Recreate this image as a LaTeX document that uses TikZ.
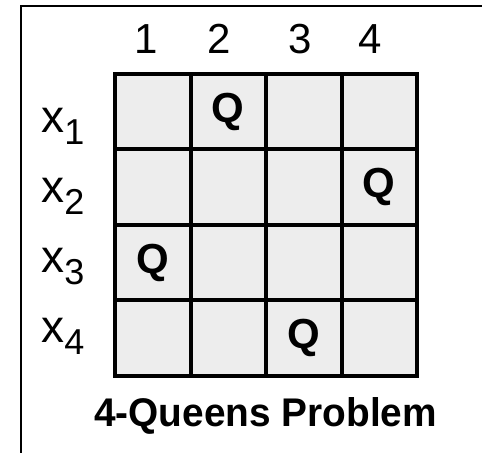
\documentclass[tikz,border=0pt]{standalone}
\usepackage{fontspec}
\setmainfont{Liberation Sans}
\usetikzlibrary{
    positioning                       % right=of, below=of
}
\definecolor{cell_gray}{RGB}{237,237,237}
\tikzset{
    cell/.style={
        rectangle, draw, fill=cell_gray, line width=2pt,
        minimum width=\cellS, minimum height=\cellS,
        inner sep=0pt, outer sep=0pt,
        font=\fontsize{21}{21}\selectfont\bfseries
    },
    collabel/.style={
        anchor=base, inner sep=0pt,
        font=\fontsize{21}{21}\selectfont
    },
    rowlabel/.style={
        anchor=base west, inner sep=0pt
    },
    title/.style={
        anchor=base, inner sep=0pt,
        font=\fontsize{20}{20}\selectfont\bfseries
    }
}
\newcommand{\xvar}[1]{{\fontsize{23}{23}\selectfont x}\raisebox{-6pt}{\fontsize{18}{18}\selectfont #1}}

\begin{document}
\begin{tikzpicture}[x=0.5pt, y=-0.5pt, node distance=0mm]

        \def\cellS{37.75pt}

        \useasboundingbox (0,0) rectangle (482,453);

        % Marco
        \draw[line width=0.75pt] (482,6) -- (21,6) -- (21,453);

        % Tablero 4x4
        \node[cell] (c11) at (152.75,111.75) {};
        \node[cell, right=of c11] (c12) {Q};
        \node[cell, right=of c12] (c13) {};
        \node[cell, right=of c13] (c14) {};

        \node[cell, below=of c11] (c21) {};
        \node[cell, right=of c21] (c22) {};
        \node[cell, right=of c22] (c23) {};
        \node[cell, right=of c23] (c24) {Q};

        \node[cell, below=of c21] (c31) {Q};
        \node[cell, right=of c31] (c32) {};
        \node[cell, right=of c32] (c33) {};
        \node[cell, right=of c33] (c34) {};

        \node[cell, below=of c31] (c41) {};
        \node[cell, right=of c41] (c42) {};
        \node[cell, right=of c42] (c43) {Q};
        \node[cell, right=of c43] (c44) {};

        % Columnas
        \node[collabel] (k1) at (146,54) {1};
        \node[collabel] (k2) at (219,54) {2};
        \node[collabel] (k3) at (300,54) {3};
        \node[collabel] (k4) at (370,54) {4};

        % Variables
        \node[rowlabel] (x1) at (41,133) {\xvar{1}};
        \node[rowlabel] (x2) at (41,202.7) {\xvar{2}};
        \node[rowlabel] (x3) at (41,272.4) {\xvar{3}};
        \node[rowlabel] (x4) at (41,342.1) {\xvar{4}};

        % Titulo
        \node[title, xscale=0.97] (title) at (265.5,427) {4-Queens Problem};

\end{tikzpicture}
\end{document}
